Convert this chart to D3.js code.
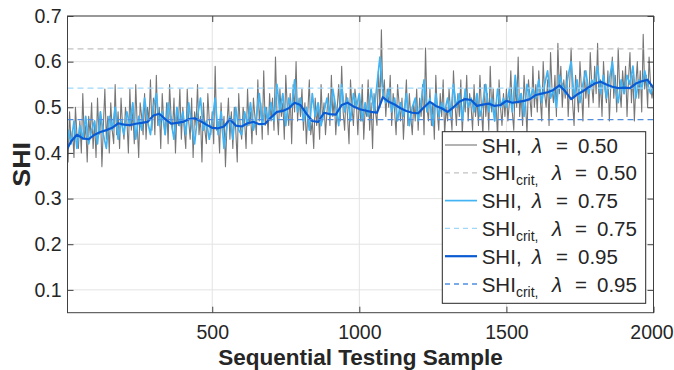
<!DOCTYPE html>
<html>
<head>
<meta charset="utf-8">
<script src="https://cdn.jsdelivr.net/npm/d3@7"></script>
<style>
  body { margin: 0; background: #fff; }
  svg text { font-family: "Liberation Sans", Arial, Helvetica, sans-serif; fill: #262626; }
</style>
</head>
<body>
<div id="chart"></div>
<script>
// SHI, lambda = 0.50 (read every 5 samples)
const shi50 = [
  0.40,0.46,0.38,0.49,0.42,0.45,0.39,0.50,0.44,0.41,0.47,0.40,0.53,0.43,0.46,0.38,0.48,0.44,0.51,0.41,
  0.47,0.39,0.52,0.44,0.49,0.37,0.46,0.54,0.43,0.48,0.40,0.51,0.45,0.42,0.55,0.44,0.49,0.41,0.52,0.46,
  0.43,0.50,0.47,0.40,0.54,0.45,0.49,0.42,0.55,0.46,0.39,0.51,0.48,0.44,0.53,0.43,0.50,0.47,0.56,0.45,
  0.52,0.44,0.57,0.46,0.50,0.41,0.53,0.47,0.44,0.51,0.42,0.55,0.48,0.45,0.52,0.40,0.49,0.46,0.54,0.43,
  0.50,0.45,0.41,0.54,0.47,0.43,0.52,0.39,0.49,0.46,0.55,0.44,0.48,0.38,0.51,0.45,0.42,0.53,0.47,0.44,
  0.49,0.42,0.59,0.45,0.47,0.40,0.51,0.44,0.48,0.37,0.46,0.52,0.43,0.49,0.41,0.50,0.45,0.38,0.53,0.46,
  0.43,0.50,0.47,0.41,0.54,0.46,0.49,0.42,0.52,0.48,0.44,0.56,0.47,0.51,0.43,0.58,0.46,0.50,0.44,0.53,
  0.47,0.52,0.45,0.61,0.49,0.44,0.54,0.48,0.51,0.43,0.57,0.50,0.46,0.53,0.42,0.55,0.49,0.60,0.47,0.52,
  0.48,0.54,0.45,0.51,0.42,0.49,0.56,0.44,0.47,0.41,0.52,0.46,0.50,0.43,0.55,0.47,0.51,0.44,0.49,0.53,
  0.46,0.57,0.48,0.52,0.44,0.50,0.55,0.47,0.59,0.49,0.45,0.53,0.48,0.42,0.56,0.50,0.46,0.54,0.51,0.44,
  0.52,0.47,0.55,0.43,0.50,0.48,0.56,0.45,0.51,0.41,0.53,0.49,0.46,0.58,0.50,0.67,0.52,0.56,0.48,0.54,
  0.50,0.57,0.46,0.53,0.49,0.44,0.55,0.51,0.47,0.52,0.43,0.50,0.56,0.46,0.53,0.48,0.44,0.51,0.47,0.54,
  0.45,0.52,0.48,0.55,0.44,0.63,0.50,0.47,0.54,0.46,0.51,0.43,0.57,0.49,0.45,0.53,0.48,0.56,0.44,0.50,
  0.47,0.54,0.49,0.45,0.58,0.51,0.46,0.53,0.48,0.56,0.44,0.52,0.49,0.57,0.47,0.53,0.50,0.45,0.55,0.48,
  0.52,0.46,0.57,0.50,0.44,0.55,0.48,0.53,0.45,0.59,0.49,0.54,0.47,0.51,0.43,0.56,0.50,0.46,0.53,0.48,
  0.54,0.47,0.51,0.58,0.49,0.45,0.55,0.50,0.61,0.48,0.53,0.46,0.57,0.51,0.44,0.56,0.52,0.48,0.59,0.50,
  0.55,0.49,0.58,0.52,0.47,0.60,0.53,0.50,0.56,0.46,0.62,0.54,0.51,0.57,0.48,0.64,0.53,0.59,0.50,0.56,
  0.52,0.58,0.48,0.55,0.63,0.51,0.46,0.57,0.53,0.49,0.60,0.54,0.47,0.58,0.52,0.56,0.50,0.62,0.55,0.51,
  0.59,0.53,0.64,0.50,0.56,0.48,0.60,0.54,0.51,0.58,0.47,0.55,0.61,0.52,0.57,0.49,0.63,0.54,0.50,0.58,
  0.53,0.59,0.48,0.56,0.62,0.51,0.57,0.47,0.55,0.60,0.52,0.58,0.49,0.66,0.54,0.57,0.50,0.61,0.55,0.52,
  0.55
];

// SHI, lambda = 0.75 (read every 10 samples)
const shi75 = [
  0.40,0.45,0.42,0.47,0.41,0.46,0.43,0.48,0.42,0.45,
  0.47,0.42,0.49,0.44,0.41,0.48,0.45,0.50,0.43,0.47,
  0.44,0.49,0.46,0.51,0.43,0.48,0.45,0.52,0.47,0.44,
  0.50,0.53,0.46,0.49,0.44,0.51,0.47,0.43,0.50,0.46,
  0.49,0.44,0.51,0.46,0.42,0.48,0.52,0.45,0.47,0.43,
  0.47,0.52,0.44,0.49,0.41,0.46,0.48,0.43,0.50,0.45,
  0.44,0.49,0.46,0.51,0.45,0.48,0.53,0.46,0.50,0.47,
  0.51,0.47,0.55,0.49,0.53,0.46,0.52,0.50,0.56,0.49,
  0.52,0.47,0.50,0.45,0.53,0.48,0.51,0.46,0.49,0.52,
  0.48,0.54,0.50,0.46,0.55,0.49,0.52,0.47,0.53,0.50,
  0.53,0.47,0.51,0.48,0.54,0.49,0.55,0.61,0.53,0.51,
  0.54,0.49,0.52,0.47,0.51,0.48,0.53,0.46,0.50,0.52,
  0.47,0.51,0.56,0.49,0.52,0.46,0.53,0.48,0.51,0.49,
  0.52,0.48,0.55,0.50,0.53,0.47,0.54,0.50,0.52,0.49,
  0.53,0.48,0.51,0.55,0.49,0.52,0.47,0.54,0.50,0.52,
  0.50,0.54,0.49,0.57,0.51,0.53,0.48,0.55,0.52,0.54,
  0.52,0.56,0.51,0.55,0.58,0.52,0.54,0.50,0.57,0.55,
  0.53,0.57,0.60,0.52,0.56,0.51,0.55,0.58,0.53,0.56,
  0.55,0.59,0.53,0.57,0.52,0.56,0.60,0.54,0.51,0.56,
  0.53,0.57,0.55,0.59,0.52,0.56,0.54,0.58,0.55,0.53,
  0.55
];

// SHI, lambda = 0.95 (read every 20 samples)
const shi95 = [
  0.400,0.425,0.440,0.432,0.430, 0.440,0.446,0.450,0.455,0.465,
  0.462,0.461,0.464,0.466,0.468, 0.482,0.486,0.474,0.464,0.466,
  0.468,0.474,0.476,0.470,0.462, 0.455,0.454,0.458,0.474,0.460,
  0.458,0.465,0.468,0.463,0.464, 0.478,0.490,0.492,0.498,0.510,
  0.505,0.486,0.470,0.468,0.488, 0.485,0.484,0.505,0.510,0.502,
  0.496,0.493,0.490,0.488,0.522, 0.512,0.506,0.498,0.492,0.488,
  0.487,0.500,0.512,0.503,0.498, 0.490,0.500,0.512,0.518,0.516,
  0.503,0.506,0.508,0.503,0.505, 0.514,0.510,0.512,0.514,0.518,
  0.527,0.530,0.533,0.538,0.548, 0.535,0.518,0.528,0.535,0.544,
  0.552,0.556,0.550,0.545,0.542, 0.543,0.542,0.552,0.557,0.560,
  0.542
];

// critical limits
const crit = [0.628, 0.542, 0.473];
const lambdas = ['0.50', '0.75', '0.95'];
const xTicks = [500, 1000, 1500, 2000];
const yTicks = [0.1, 0.2, 0.3, 0.4, 0.5, 0.6, 0.7];

const W = 674, H = 370;
const margin = {top: 16, right: 20.5, bottom: 57.3, left: 67.5};
const w = W - margin.left - margin.right;
const h = H - margin.top - margin.bottom;

const svg = d3.select('#chart').append('svg')
  .attr('width', W)
  .attr('height', H);

const g = svg.append('g')
  .attr('transform', `translate(${margin.left},${margin.top})`);

const x = d3.scaleLinear().domain([8, 2000]).range([0, w]);
const y = d3.scaleLinear().domain([0.05, 0.7]).range([h, 0]);

g.append('clipPath').attr('id', 'clip')
  .append('rect').attr('width', w).attr('height', h);

// grid
g.append('g').selectAll('line').data(xTicks.slice(0, 3)).enter().append('line')
  .attr('x1', d => x(d)).attr('x2', d => x(d))
  .attr('y1', 0).attr('y2', h)
  .style('stroke', '#e3e3e3').style('stroke-width', 1);
g.append('g').selectAll('line').data(yTicks).enter().append('line')
  .attr('x1', 0).attr('x2', w)
  .attr('y1', d => y(d)).attr('y2', d => y(d))
  .style('stroke', '#e3e3e3').style('stroke-width', 1);

const series = [
  {values: shi50, step: 5, color: '#767676', width: 1.1, crit: crit[0], critColor: '#c2c2c2', lam: lambdas[0]},
  {values: shi75, step: 10, color: '#42b4f4', width: 1.7, crit: crit[1], critColor: '#9fd8fa', lam: lambdas[1]},
  {values: shi95, step: 20, color: '#0a5bd3', width: 2.2, crit: crit[2], critColor: '#4f8ee0', lam: lambdas[2]}
];

const plot = g.append('g').attr('clip-path', 'url(#clip)');

series.forEach(s => {
  const line = d3.line()
    .x((d, i) => x(i * s.step))
    .y(d => y(d));
  plot.append('path')
    .datum(s.values)
    .attr('d', line)
    .style('fill', 'none')
    .style('stroke', s.color)
    .style('stroke-width', s.width)
    .style('stroke-linejoin', 'round');
  plot.append('line')
    .attr('x1', 0).attr('x2', w)
    .attr('y1', y(s.crit)).attr('y2', y(s.crit))
    .style('stroke', s.critColor)
    .style('stroke-width', 1.3)
    .style('stroke-dasharray', '6,4');
});

// axes, ticks pointing inward
const fmtY = d3.format('.1f');
const xAxis = g.append('g')
  .attr('transform', `translate(0,${h})`)
  .call(d3.axisBottom(x).tickValues(xTicks).tickSize(-6).tickPadding(12).tickFormat(d3.format('d')));
const yAxis = g.append('g')
  .call(d3.axisLeft(y).tickValues(yTicks).tickSize(-6).tickPadding(6).tickFormat(fmtY));
const topAxis = g.append('g')
  .call(d3.axisTop(x).tickValues(xTicks).tickSize(-6).tickFormat(''));
const rightAxis = g.append('g')
  .attr('transform', `translate(${w},0)`)
  .call(d3.axisRight(y).tickValues(yTicks).tickSize(-6).tickFormat(''));

[xAxis, yAxis, topAxis, rightAxis].forEach(a => {
  a.select('.domain').remove();
  a.selectAll('.tick line').style('stroke', '#404040');
  a.selectAll('text').style('font-size', '19.5px').style('fill', '#262626');
});
// last x label sits at the right edge of the window
xAxis.selectAll('.tick text').filter(d => d === 2000).attr('dx', -2);

g.append('rect')
  .attr('width', w).attr('height', h)
  .style('fill', 'none').style('stroke', '#404040').style('stroke-width', 1);

// axis titles
svg.append('text')
  .attr('x', margin.left + w / 2).attr('y', 365)
  .attr('text-anchor', 'middle')
  .style('font-size', '22.5px').style('font-weight', 'bold')
  .text('Sequential Testing Sample');

svg.append('text')
  .attr('transform', `translate(30,${margin.top + h / 2}) rotate(-90) scale(1.12,1)`)
  .attr('text-anchor', 'middle')
  .style('font-size', '24px').style('font-weight', 'bold')
  .text('SHI');

// legend
const legendItems = [];
series.forEach(s => {
  legendItems.push({color: s.color, width: s.width, dash: null, sub: false, lam: s.lam});
  legendItems.push({color: s.critColor, width: 1.3, dash: '5,4', sub: true, lam: s.lam});
});

const lg = svg.append('g');
lg.append('rect')
  .attr('x', 442.3).attr('y', 131.7)
  .attr('width', 203.4).attr('height', 171.6)
  .style('fill', '#fff').style('stroke', '#262626').style('stroke-width', 1);

const rowY = i => 145 + i * 27.8;

lg.selectAll('legendLines')
  .data(legendItems)
  .enter()
  .append('line')
  .attr('x1', 445).attr('x2', 477)
  .attr('y1', (d, i) => rowY(i)).attr('y2', (d, i) => rowY(i))
  .style('stroke', d => d.color)
  .style('stroke-width', d => d.width)
  .style('stroke-dasharray', d => d.dash);

legendItems.forEach((d, i) => {
  const yy = rowY(i) + 7.5;
  const t = lg.append('text').attr('x', 481.7).attr('y', yy).style('font-size', '20.5px');
  t.append('tspan').text('SHI');
  if (d.sub) {
    t.append('tspan').attr('dy', 5).style('font-size', '14px').text('crit,');
    lg.append('text').attr('x', 552).attr('y', yy).style('font-size', '20.5px').style('font-style', 'italic').text('λ');
    lg.append('text').attr('x', 575).attr('y', yy).style('font-size', '20.5px').text('=');
    lg.append('text').attr('x', 597).attr('y', yy).style('font-size', '20.5px').text(d.lam);
  } else {
    t.append('tspan').text(',');
    lg.append('text').attr('x', 532).attr('y', yy).style('font-size', '20.5px').style('font-style', 'italic').text('λ');
    lg.append('text').attr('x', 556).attr('y', yy).style('font-size', '20.5px').text('=');
    lg.append('text').attr('x', 578).attr('y', yy).style('font-size', '20.5px').text(d.lam);
  }
});
</script>
</body>
</html>
